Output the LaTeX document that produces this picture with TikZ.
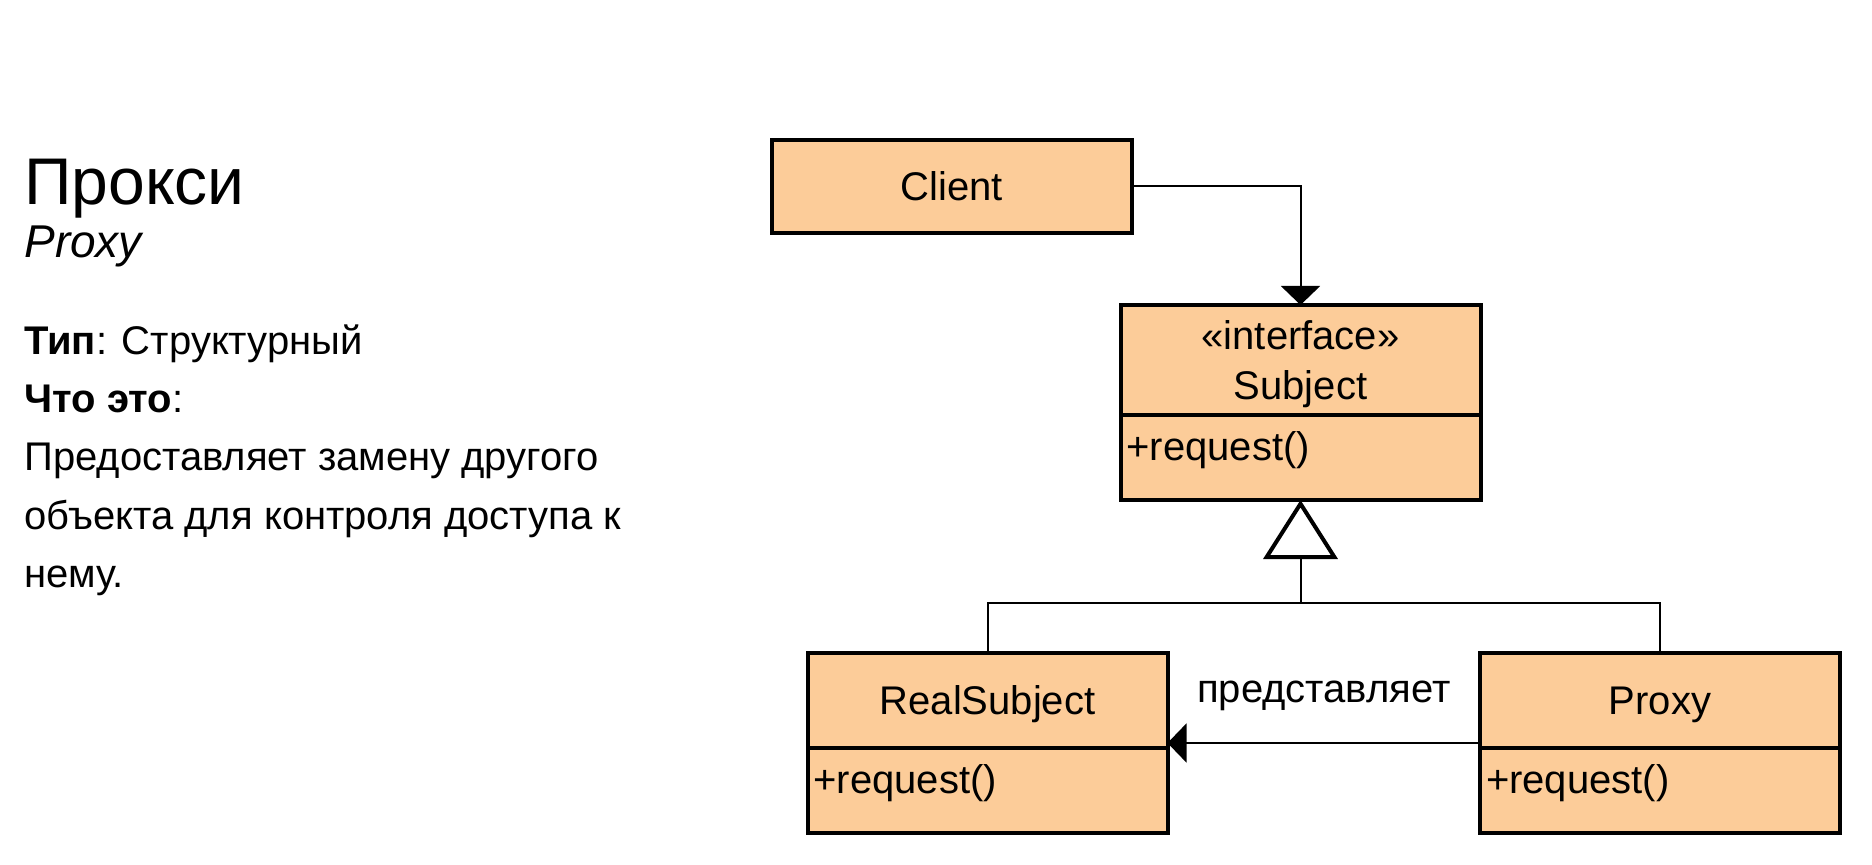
\documentclass[tikz,border=0pt]{standalone}
\usepackage{fontspec}
\setmainfont{Liberation Sans}
\usetikzlibrary{positioning,arrows.meta}
\definecolor{umlfill}{RGB}{252,204,153}
\tikzset{
  cls/.style={draw, fill=umlfill, line width=2pt, outer sep=0pt, minimum width=180pt,
    font=\fontsize{20}{25}\selectfont},
  clshead/.style={cls, align=center, text depth=0pt},
  clsbody/.style={cls, text width=174pt, align=left, inner xsep=3pt, inner ysep=2pt,
    text height=20.5pt, text depth=18pt},
  assoc/.style={line width=1pt, -{Triangle[length=9.5pt, width=19.5pt]}},
  inherit/.style={line width=1pt, -{Triangle[open, length=29.5pt, width=37pt, line width=2pt, fill=white]}},
  txt/.style={anchor=base west, inner sep=0pt, font=\fontsize{20}{24}\selectfont},
}
\begin{document}
\begin{tikzpicture}[x=0.5pt, y=-0.5pt]
\useasboundingbox (0,0) rectangle (1872,865);
% left side text
\node[txt, font=\fontsize{33}{36}\selectfont] (title) at (24,205) {Прокси};
\node[txt, font=\fontsize{23}{26}\selectfont\itshape] (entitle) at (24,258) {Proxy};
\node[txt] (kind) at (24,355) {\textbf{Тип}: Структурный};
\node[txt] (what) at (24,413) {\textbf{Что это}:};
\node[txt] (desc1) at (24,471) {Предоставляет замену другого};
\node[txt] (desc2) at (24,529) {объекта для контроля доступа к};
\node[txt] (desc3) at (24,587) {нему.};
% classes
\node[clshead, minimum height=46.5pt] (client) at (951.5,186.5) {Client};
\node[clshead, minimum height=55pt] (subj) at (1300.5,360) {«interface»\\Subject};
\node[clsbody, below=0pt of subj] (subjops) {+request()};
\node[clshead, minimum height=47.5pt] (real) at (987.5,700.5) {RealSubject};
\node[clsbody, below=0pt of real] (realops) {+request()};
\node[clshead, minimum height=47.5pt] (proxy) at (1660,700.5) {Proxy};
\node[clsbody, below=0pt of proxy] (proxyops) {+request()};
% connectors
\draw[assoc] (client.east) -| (subj.north);
\coordinate (fork) at (1300.5,603);
\draw[line width=1pt] (real.north) |- (fork) -| (proxy.north);
\draw[inherit] (fork) -- (subjops.south);
\draw[assoc] ([yshift=2.5pt]proxy.south west) -- ([yshift=2.5pt]real.south east)
  node[midway, anchor=base, yshift=20.5pt, font=\fontsize{20}{24}\selectfont] (repr) {представляет};
\end{tikzpicture}
\end{document}
